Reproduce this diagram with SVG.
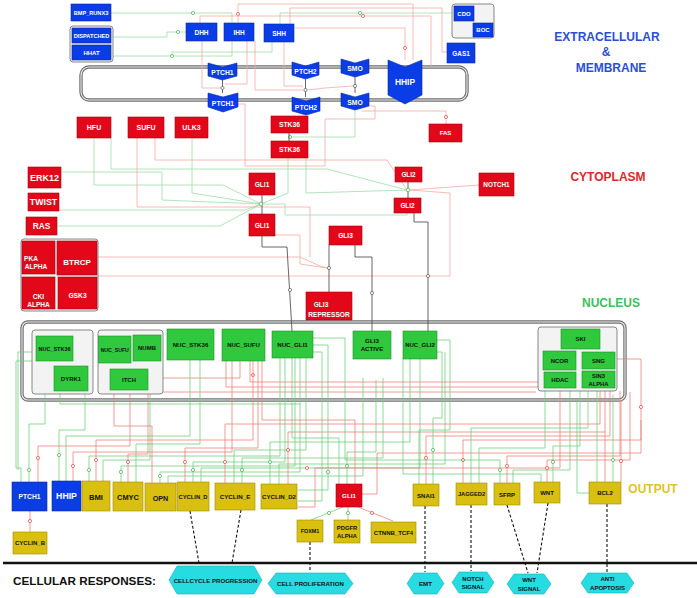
<svg xmlns="http://www.w3.org/2000/svg" width="697" height="598" viewBox="0 0 697 598">
<defs>
<style>
.nb{fill:#0b3de6;stroke:#082aa8;stroke-width:.6}
.nr{fill:#e2081a;stroke:#a8000e;stroke-width:.6}
.ng{fill:#30c83c;stroke:#1d9527;stroke-width:.6}
.ny{fill:#d9bf10;stroke:#a08a00;stroke-width:.6}
.nc{fill:#27dbe2;stroke:#16b3ba;stroke-width:.6}
.grp{fill:#f3f3f3;stroke:#7a7a7a;stroke-width:.9}
.fo{fill:none;stroke:#707070;stroke-width:3.4}
.fi{fill:none;stroke:#ececec;stroke-width:1.1}
.t{font-family:"Liberation Sans",Arial,sans-serif;font-weight:bold;text-anchor:middle;dominant-baseline:central}
.tw{fill:#fff}
.tk{fill:#111}
.lab{font-family:"Liberation Sans",Arial,sans-serif;font-weight:bold;font-size:12px;text-anchor:middle}
path{fill:none}
.g{stroke:#6fcf7e;stroke-width:.8}
.r{stroke:#ee8078;stroke-width:.8}
.g2{stroke:#9edca8;stroke-width:.8}
.r2{stroke:#f4aaa4;stroke-width:.8}
.k{stroke:#555;stroke-width:.9}
.d{stroke:#111;stroke-width:1.1;stroke-dasharray:3 2;marker-end:url(#ad)}
.ga{marker-end:url(#ag)}
.ra{marker-end:url(#ar)}
.ka{marker-end:url(#ak)}
.cg{fill:#fff;stroke:#3fae4c;stroke-width:.7}
.cr{fill:#fff;stroke:#e0443c;stroke-width:.7}
.ck{fill:#fff;stroke:#555;stroke-width:.7}
</style>
<marker id="ag" viewBox="0 0 6 6" refX="6" refY="3" markerWidth="4" markerHeight="4" orient="auto" markerUnits="userSpaceOnUse"><path d="M0,0L6,3L0,6Z" fill="#2fae3f"/></marker>
<marker id="ar" viewBox="0 0 6 6" refX="6" refY="3" markerWidth="4" markerHeight="4" orient="auto" markerUnits="userSpaceOnUse"><path d="M0,0L6,3L0,6Z" fill="#e0342c"/></marker>
<marker id="ak" viewBox="0 0 6 6" refX="6" refY="3" markerWidth="4" markerHeight="4" orient="auto" markerUnits="userSpaceOnUse"><path d="M0,0L6,3L0,6Z" fill="#222"/></marker>
<marker id="ad" viewBox="0 0 6 6" refX="6" refY="3" markerWidth="5" markerHeight="5" orient="auto" markerUnits="userSpaceOnUse"><path d="M0,0L6,3L0,6Z" fill="#111"/></marker>
</defs>
<rect width="697" height="598" fill="#fff"/>

<g id="frames">
<rect class="fo" x="81" y="67" width="386" height="33" rx="8"/>
<rect class="fi" x="81" y="67" width="386" height="33" rx="8"/>
<rect class="fo" x="22" y="322" width="603" height="78" rx="6"/>
<rect class="fi" x="22" y="322" width="603" height="78" rx="6"/>
<path d="M3,563H697" stroke="#111" stroke-width="2.4"/>
</g>

<g id="connectors">
<!-- extracellular -->
<path class="g2 ga" d="M111,13H232V23"/><circle class="cg" cx="193" cy="13" r="1.6"/>
<path class="g2 ga" d="M113,37H167V32H186"/><circle class="cg" cx="178" cy="32" r="1.6"/>
<path class="g2 ga" d="M113,56H232V41"/><circle class="cg" cx="172" cy="56" r="1.6"/>
<path class="g2 ga" d="M172,56V52H272V42"/>
<path class="g2 ga" d="M453,13H280V24"/><circle class="cg" cx="360" cy="13" r="1.6"/>
<path class="r2 ra" d="M413,60V4H238V23"/><circle class="cr" cx="238" cy="14" r="1.6"/>
<path class="r2 ra" d="M431,66V16H200V23"/><circle class="cr" cx="363" cy="16" r="1.6"/>
<path class="r2 ra" d="M447,52H442V8H290V24"/>
<path class="r2 ra" d="M405,60V28H295"/><circle class="cr" cx="405" cy="48" r="1.6"/>
<path class="r2" d="M202,41V88H221"/>
<path class="r2" d="M247,41V84H225"/>
<path class="r2" d="M255,41V90H303"/>
<path class="r2" d="M284,42V86H303"/>
<path class="r2" d="M308,90L325,88L353,86"/>
<path class="k ka" d="M222.5,80V93"/><circle class="ck" cx="222.5" cy="88" r="1.6"/>
<path class="k ka" d="M305.5,79V97"/><circle class="ck" cx="305.5" cy="90" r="1.6"/>
<path class="k ka" d="M355,77V93"/><circle class="ck" cx="355" cy="86" r="1.6"/>
<!-- cytoplasm -->
<path class="g2" d="M355,110V137H292"/><circle class="cg" cx="290" cy="137" r="1.6"/>
<path class="k ka" d="M289,133V141"/>
<path class="r2 ra" d="M362,111H446V124"/><circle class="cr" cx="446" cy="117" r="1.6"/>
<path class="r2" d="M238,104H245V166H325V119H375V106H369"/>
<path class="g2" d="M94,138V185H223L261,204"/>
<path class="g2" d="M61,172H162V200L261,204"/>
<path class="g2" d="M59,210H245L261,204"/>
<path class="g2" d="M57,226H220L261,204"/>
<path class="g2" d="M192,138V193L261,204"/>
<path class="g2" d="M288,158V193L261,204"/>
<path class="g2" d="M111,138V169H327L407,190"/>
<path class="g2" d="M306,158V193L407,190"/>
<path class="g2" d="M263,204H285V215H407V213"/>
<path class="r2" d="M137,138V207H310V257"/>
<path class="r2" d="M155,138V160H387L407,190"/>
<path class="r2" d="M98,257H300L320,266L327,268"/>
<path class="r2" d="M98,276H450V193L410,190"/>
<path class="r2" d="M479,185L410,190"/>
<path class="r2" d="M275,235H300V264L327,268"/>
<path class="k" d="M262,195V204"/><path class="k ka" d="M262,204V214"/><circle class="cg" cx="261" cy="204" r="1.8"/>
<path class="k" d="M408,182V190"/><path class="k ka" d="M408,190V198"/><circle class="cg" cx="408" cy="190" r="1.8"/>
<path class="k ka" d="M262,236V247H287L292,331"/><circle class="ck" cx="290" cy="290" r="1.6"/>
<path class="k ka" d="M355,245V257H372V331"/><circle class="ck" cx="372" cy="293" r="1.6"/>
<path class="k ka" d="M329,245V292"/><circle class="ck" cx="329" cy="268" r="1.6"/>
<path class="k ka" d="M414,213V222H428V331"/><circle class="ck" cx="428" cy="276" r="1.6"/>
<!-- nucleus internal -->
<path class="r ra" d="M240,361V378H149"/>
<path class="r" d="M250,361V382H538"/>
<path class="r" d="M226,361V387H538"/>
<path class="r" d="M160,392H536"/>
<path class="g" d="M32,352H18V470"/>
<path class="g" d="M60,391V404H300"/>
<circle class="cr" cx="253" cy="375" r="1.6"/>
<!-- outputs -->
<path class="g ga" d="M36,361H16V468H21V482"/>
<path class="g ga" d="M45,394V424H29V482"/><circle class="cg" cx="29" cy="470" r="1.6"/>
<path class="r ra" d="M130,390V446H38V482"/><circle class="cr" cx="38" cy="458" r="1.6"/>
<path class="g ga" d="M85,391V430H59V481"/><circle class="cg" cx="59" cy="455" r="1.6"/>
<path class="g ga" d="M190,360V436H66V481"/>
<path class="r ra" d="M232,361V452H73V481"/><circle class="cr" cx="73" cy="466" r="1.6"/>
<path class="g ga" d="M280,358V456H89V481"/><circle class="cg" cx="89" cy="470" r="1.6"/>
<path class="r ra" d="M253,361V440H96V481"/><circle class="cr" cx="96" cy="460" r="1.6"/>
<path class="g ga" d="M150,394V460H103V481"/>
<path class="g ga" d="M295,358V466H121V482"/><circle class="cg" cx="121" cy="472" r="1.6"/>
<path class="r ra" d="M148,390V454H128V482"/><circle class="cr" cx="128" cy="462" r="1.6"/>
<path class="g ga" d="M200,360V444H136V482"/>
<path class="r ra" d="M114,390V426H152V483"/>
<path class="g ga" d="M300,358V472H160V483"/><circle class="cg" cx="160" cy="476" r="1.6"/>
<path class="g ga" d="M363,378V476H168V483"/>
<path class="r ra" d="M258,361V448H185V482"/><circle class="cr" cx="185" cy="462" r="1.6"/>
<path class="g ga" d="M285,358V462H193V482"/><circle class="cg" cx="193" cy="470" r="1.6"/>
<path class="g ga" d="M420,359V468H201V482"/>
<path class="r ra" d="M600,391V424H225V483"/><circle class="cr" cx="225" cy="462" r="1.6"/>
<path class="g ga" d="M306,358V450H234V483"/>
<path class="g ga" d="M383,378V458H242V483"/><circle class="cg" cx="242" cy="470" r="1.6"/>
<path class="g ga" d="M410,359V442H270V484"/><circle class="cg" cx="270" cy="462" r="1.6"/>
<path class="g ga" d="M445,352V464H279V484"/>
<path class="r ra" d="M605,391V432H288V484"/><circle class="cr" cx="288" cy="450" r="1.6"/>
<path class="r ra" d="M560,391V468H315V507H298"/><circle class="cr" cx="307" cy="468" r="1.6"/>
<path class="g ga" d="M313,345H328V490H298"/><circle class="cg" cx="328" cy="472" r="1.6"/>
<path class="g ga" d="M313,352H322V501H298"/>
<path class="g ga" d="M292,358V438H339V484"/>
<path class="g ga" d="M376,380V452H347V484"/><circle class="cg" cx="347" cy="466" r="1.6"/>
<path class="r ra" d="M262,361V420H355V484"/>
<path class="r ra" d="M617,359H641V453H377V494H362"/><circle class="cr" cx="641" cy="407" r="1.6"/>
<path class="g ga" d="M437,340H450V430H419V484"/>
<path class="r ra" d="M610,391V436H426V484"/><circle class="cr" cx="426" cy="458" r="1.6"/>
<path class="g ga" d="M437,352H442V418H433V484"/><circle class="cg" cx="433" cy="450" r="1.6"/>
<path class="r ra" d="M641,420V440H463V483"/><circle class="cr" cx="463" cy="460" r="1.6"/>
<path class="g ga" d="M588,391V428H471V483"/>
<path class="g ga" d="M545,391V448H479V483"/>
<path class="g ga" d="M313,338H345V460H500V483"/><circle class="cg" cx="500" cy="470" r="1.6"/>
<path class="r ra" d="M620,391V456H507V483"/><circle class="cr" cx="507" cy="466" r="1.6"/>
<path class="g ga" d="M570,391V470H513V483"/>
<path class="g ga" d="M403,359V474H541V482"/>
<path class="r ra" d="M630,392V460H547V482"/><circle class="cr" cx="547" cy="468" r="1.6"/>
<path class="g ga" d="M580,391V446H553V482"/><circle class="cg" cx="553" cy="462" r="1.6"/>
<path class="g ga" d="M577,400V493H589"/>
<path class="g ga" d="M597,391V482"/>
<path class="r ra" d="M605,432V482"/>
<path class="g ga" d="M613,395V482"/><circle class="cg" cx="613" cy="460" r="1.6"/>
<path class="r ra" d="M621,400V482"/><circle class="cr" cx="621" cy="461" r="1.6"/>
<!-- secondary -->
<path class="r ra" d="M30,511V532"/><circle class="cr" cx="30" cy="521" r="1.6"/>
<path class="g ga" d="M343,507L311,520"/><circle class="cg" cx="329" cy="513" r="1.6"/>
<path class="g ga" d="M348,507V520"/><circle class="cg" cx="348" cy="513" r="1.6"/>
<path class="r ra" d="M358,507L393,521"/><circle class="cr" cx="372" cy="513" r="1.6"/>
<path class="d" d="M190,511L199,563"/>
<path class="d" d="M241,510L232,563"/>
<path class="d" d="M310,542V571"/>
<path class="d" d="M425,506V572"/>
<path class="d" d="M471,505V571"/>
<path class="d" d="M507,505L528,573"/>
<path class="d" d="M548,503L537,573"/>
<path class="d" d="M607,504V573"/>
</g>

<g id="nodes">
<g id="bmp_runx3"><rect class="nb" x="71" y="4" width="40" height="17"/><text class="t tw" x="91" y="12.5" font-size="5.6">BMP_RUNX3</text></g>
<g id="dispatched_group"><rect class="grp" x="70" y="26" width="43" height="36" rx="3"/>
<rect class="nb" x="72" y="28" width="39" height="15"/><text class="t tw" x="91.5" y="35.5" font-size="5.6">DISPATCHED</text>
<rect class="nb" x="72" y="45" width="39" height="15"/><text class="t tw" x="91.5" y="52.5" font-size="6">HHAT</text></g>
<g id="dhh"><rect class="nb" x="186" y="23" width="31" height="18"/><text class="t tw" x="201.5" y="32" font-size="6.5">DHH</text></g>
<g id="ihh"><rect class="nb" x="224" y="23" width="30" height="18"/><text class="t tw" x="239" y="32" font-size="6.5">IHH</text></g>
<g id="shh"><rect class="nb" x="264" y="24" width="30" height="18"/><text class="t tw" x="279" y="33" font-size="6.5">SHH</text></g>
<g id="cdo_boc"><rect class="grp" x="452" y="4" width="42" height="34" rx="3"/>
<rect class="nb" x="454" y="6" width="20" height="15"/><text class="t tw" x="464" y="13.5" font-size="6">CDO</text>
<rect class="nb" x="473" y="23" width="20" height="14"/><text class="t tw" x="483" y="30" font-size="6">BOC</text></g>
<g id="gas1"><rect class="nb" x="447" y="43" width="28" height="20"/><text class="t tw" x="461" y="53" font-size="6.4">GAS1</text></g>
<g id="ptch1_up"><path class="nb" d="M208,63L222.5,67L237,63L237,76L222.5,80L208,76Z"/><text class="t tw" x="222.5" y="72" font-size="6.8">PTCH1</text></g>
<g id="ptch1_low"><path class="nb" d="M208,93L223,97L238,93L238,107L223,112L208,107Z"/><text class="t tw" x="223" y="103" font-size="6.8">PTCH1</text></g>
<g id="ptch2_up"><path class="nb" d="M292,62L305.5,66L319,62L319,75L305.5,79L292,75Z"/><text class="t tw" x="305.5" y="71" font-size="6.8">PTCH2</text></g>
<g id="ptch2_low"><path class="nb" d="M292,97L306,101L320,97L320,111L306,115L292,111Z"/><text class="t tw" x="306" y="107" font-size="6.8">PTCH2</text></g>
<g id="smo_up"><path class="nb" d="M341,59L355,63L369,59L369,73L355,77L341,73Z"/><text class="t tw" x="355" y="68.5" font-size="6.8">SMO</text></g>
<g id="smo_low"><path class="nb" d="M341,93L355,97L369,93L369,106L355,110L341,106Z"/><text class="t tw" x="355" y="102.5" font-size="6.8">SMO</text></g>
<g id="hhip"><path class="nb" d="M388,60L405,67L422,60L422,95L405,104L388,95Z"/><text class="t tw" x="405" y="82" font-size="8.4">HHIP</text></g>

<g id="hfu"><rect class="nr" x="77" y="117" width="34" height="21"/><text class="t tw" x="94" y="127.5" font-size="7">HFU</text></g>
<g id="sufu"><rect class="nr" x="128" y="117" width="36" height="21"/><text class="t tw" x="146" y="127.5" font-size="7">SUFU</text></g>
<g id="ulk3"><rect class="nr" x="175" y="117" width="33" height="21"/><text class="t tw" x="191.5" y="127.5" font-size="7">ULK3</text></g>
<g id="stk36_a"><rect class="nr" x="271" y="116" width="37" height="17"/><text class="t tw" x="289.5" y="124.5" font-size="6.8">STK36</text></g>
<g id="stk36_b"><rect class="nr" x="271" y="141" width="37" height="17"/><text class="t tw" x="289.5" y="149.5" font-size="6.8">STK36</text></g>
<g id="fas"><rect class="nr" x="429" y="124" width="33" height="18"/><text class="t tw" x="445.5" y="133" font-size="6">FAS</text></g>
<g id="erk12"><rect class="nr" x="28" y="167" width="33" height="21"/><text class="t tw" x="44.5" y="177.5" font-size="9">ERK12</text></g>
<g id="twist"><rect class="nr" x="28" y="193" width="31" height="18"/><text class="t tw" x="43.5" y="202" font-size="8.8">TWIST</text></g>
<g id="ras"><rect class="nr" x="26" y="217" width="31" height="18"/><text class="t tw" x="41.5" y="225.5" font-size="8.4">RAS</text></g>
<g id="gli1_a"><rect class="nr" x="249" y="173" width="26" height="22"/><text class="t tw" x="262" y="184" font-size="6.6">GLI1</text></g>
<g id="gli1_b"><rect class="nr" x="249" y="214" width="26" height="22"/><text class="t tw" x="262" y="225" font-size="6.6">GLI1</text></g>
<g id="gli2_a"><rect class="nr" x="395" y="167" width="27" height="15"/><text class="t tw" x="408.5" y="174.5" font-size="6.4">GLI2</text></g>
<g id="gli2_b"><rect class="nr" x="394" y="198" width="27" height="15"/><text class="t tw" x="407.5" y="205.5" font-size="6.4">GLI2</text></g>
<g id="notch1"><rect class="nr" x="479" y="173" width="35" height="23"/><text class="t tw" x="496.5" y="184.5" font-size="6.4">NOTCH1</text></g>
<g id="gli3"><rect class="nr" x="329" y="226" width="33" height="19"/><text class="t tw" x="345.5" y="235.5" font-size="6.6">GLI3</text></g>
<g id="gli3_repressor"><rect class="nr" x="306" y="292" width="46" height="28"/><text class="t tw" x="321" y="304" font-size="6.6">GLI3</text><text class="t tw" x="329" y="314" font-size="6.6">REPRESSOR</text></g>
<g id="kinase_group"><rect class="grp" x="21" y="239" width="77" height="72" rx="3"/>
<rect class="nr" x="22" y="241" width="33" height="33"/><text class="t tw" x="31" y="258" font-size="6.6">PKA</text><text class="t tw" x="36" y="266.5" font-size="6.6">ALPHA</text>
<rect class="nr" x="57" y="241" width="40" height="34"/><text class="t tw" x="77" y="262.5" font-size="8">BTRCP</text>
<rect class="nr" x="22" y="277" width="33" height="32"/><text class="t tw" x="38.5" y="296" font-size="6.6">CKI</text><text class="t tw" x="38.5" y="304" font-size="6.6">ALPHA</text>
<rect class="nr" x="58" y="277" width="39" height="32"/><text class="t tw" x="77.5" y="295.5" font-size="6.7">GSK3</text></g>

<g id="nuc_group1"><rect class="grp" x="32" y="330" width="61" height="64" rx="3"/>
<rect class="ng" x="36" y="336" width="37" height="25"/><text class="t tk" x="54.5" y="348.5" font-size="5.5">NUC_STK36</text>
<rect class="ng" x="54" y="366" width="34" height="25"/><text class="t tk" x="71" y="378.5" font-size="6">DYRK1</text></g>
<g id="nuc_group2"><rect class="grp" x="98" y="330" width="65" height="64" rx="3"/>
<rect class="ng" x="98.5" y="336" width="32.5" height="27"/><text class="t tk" x="114.75" y="349.5" font-size="5.2">NUC_SUFU</text>
<rect class="ng" x="133" y="335" width="28" height="26"/><text class="t tk" x="147" y="348" font-size="6">NUMB</text>
<rect class="ng" x="110" y="369" width="38" height="21"/><text class="t tk" x="129" y="379.5" font-size="6">ITCH</text></g>
<g id="nuc_stk36"><rect class="ng" x="167" y="329" width="47" height="31"/><text class="t tk" x="190.5" y="344.5" font-size="6.1">NUC_STK36</text></g>
<g id="nuc_sufu"><rect class="ng" x="222" y="329" width="43" height="32"/><text class="t tk" x="243.5" y="344.5" font-size="6">NUC_SUFU</text></g>
<g id="nuc_gli1"><rect class="ng" x="272" y="331" width="41" height="27"/><text class="t tk" x="292.5" y="344" font-size="6.2">NUC_GLI1</text></g>
<g id="gli3_active"><rect class="ng" x="353" y="331" width="38" height="28"/><text class="t tk" x="372" y="340" font-size="6.2">GLI3</text><text class="t tk" x="372" y="348.5" font-size="6.2">ACTIVE</text></g>
<g id="nuc_gli2"><rect class="ng" x="403" y="331" width="34" height="28"/><text class="t tk" x="420" y="344.5" font-size="6">NUC_GLI2</text></g>
<g id="nuc_group3"><rect class="grp" x="538" y="327" width="79" height="64" rx="3"/>
<rect class="ng" x="561" y="329" width="39" height="20"/><text class="t tk" x="580.5" y="339" font-size="6">SKI</text>
<rect class="ng" x="543" y="351" width="33" height="19"/><text class="t tk" x="559.5" y="360.5" font-size="6">NCOR</text>
<rect class="ng" x="582" y="352" width="33" height="17"/><text class="t tk" x="598.5" y="360.5" font-size="6">SNG</text>
<rect class="ng" x="544" y="372" width="32" height="16"/><text class="t tk" x="560" y="380" font-size="6">HDAC</text>
<rect class="ng" x="582" y="371" width="33" height="17"/><text class="t tk" x="598.5" y="376.3" font-size="5.8">SIN3</text><text class="t tk" x="598.5" y="384" font-size="5.8">ALPHA</text></g>

<g id="ptch1_out"><rect class="nb" x="12" y="482" width="35" height="29"/><text class="t tw" x="29.5" y="496.5" font-size="6.7">PTCH1</text></g>
<g id="hhip_out"><rect class="nb" x="52" y="481" width="29" height="30"/><text class="t tw" x="66.5" y="496" font-size="8.7" font-weight="normal">HHIP</text></g>
<g id="bmi"><rect class="ny" x="82" y="481" width="28" height="30"/><text class="t tk" x="96" y="497" font-size="7.6">BMI</text></g>
<g id="cmyc"><rect class="ny" x="113" y="482" width="30" height="29"/><text class="t tk" x="128" y="497.5" font-size="7.4">CMYC</text></g>
<g id="opn"><rect class="ny" x="145" y="483" width="31" height="28"/><text class="t tk" x="160.5" y="498" font-size="7.2">OPN</text></g>
<g id="cyclin_d"><rect class="ny" x="177" y="482" width="32" height="29"/><text class="t tk" x="193" y="497" font-size="5.8">CYCLIN_D</text></g>
<g id="cyclin_e"><rect class="ny" x="215" y="483" width="40" height="27"/><text class="t tk" x="235" y="496.5" font-size="6.2">CYCLIN_E</text></g>
<g id="cyclin_d2"><rect class="ny" x="261" y="484" width="36" height="25"/><text class="t tk" x="279" y="496.5" font-size="6.1">CYCLIN_D2</text></g>
<g id="gli1_out"><rect class="nr" x="336" y="484" width="26" height="23"/><text class="t tw" x="349" y="495.5" font-size="6.2">GLI1</text></g>
<g id="snai1"><rect class="ny" x="413" y="484" width="26" height="22"/><text class="t tk" x="426" y="495" font-size="6.1">SNAI1</text></g>
<g id="jagged2"><rect class="ny" x="456" y="483" width="31" height="22"/><text class="t tk" x="471.5" y="494" font-size="5.7">JAGGED2</text></g>
<g id="sfrp"><rect class="ny" x="494" y="483" width="26" height="22"/><text class="t tk" x="507" y="494.5" font-size="6">SFRP</text></g>
<g id="wnt"><rect class="ny" x="534" y="482" width="26" height="21"/><text class="t tk" x="547" y="492.5" font-size="6">WNT</text></g>
<g id="bcl2"><rect class="ny" x="589" y="482" width="32" height="22"/><text class="t tk" x="605" y="493" font-size="6">BCL2</text></g>
<g id="cyclin_b"><rect class="ny" x="13" y="532" width="34" height="22"/><text class="t tk" x="30" y="543" font-size="6">CYCLIN_B</text></g>
<g id="foxm1"><rect class="ny" x="297" y="520" width="26" height="22"/><text class="t tk" x="310" y="531" font-size="5.4">FOXM1</text></g>
<g id="pdgfr_alpha"><rect class="ny" x="334" y="520" width="26" height="23"/><text class="t tk" x="347" y="527.5" font-size="5.8">PDGFR</text><text class="t tk" x="347" y="536" font-size="5.8">ALPHA</text></g>
<g id="ctnnb_tcf4"><rect class="ny" x="371" y="522" width="45" height="21"/><text class="t tk" x="393.5" y="532.5" font-size="6">CTNNB_TCF4</text></g>

<g id="cellcycle"><path class="nc" d="M169,580L177,566H254L262,580L254,594H177Z"/><text class="t tk" x="215.5" y="580" font-size="6.1">CELLCYCLE PROGRESSION</text></g>
<g id="cell_prolif"><path class="nc" d="M268,583.5L276,573H345L353,583.5L345,594H276Z"/><text class="t tk" x="310.5" y="583.5" font-size="6.1">CELL PROLIFERATION</text></g>
<g id="emt"><path class="nc" d="M407,583.5L414,573H437L444,583.5L437,594H414Z"/><text class="t tk" x="425.5" y="583.5" font-size="6.2">EMT</text></g>
<g id="notch_signal"><path class="nc" d="M452,582.5L459,572H487L494,582.5L487,593H459Z"/><text class="t tk" x="473" y="578.5" font-size="6">NOTCH</text><text class="t tk" x="473" y="587" font-size="6">SIGNAL</text></g>
<g id="wnt_signal"><path class="nc" d="M507,584L514,574H544L551,584L544,594H514Z"/><text class="t tk" x="529" y="580" font-size="6">WNT</text><text class="t tk" x="529" y="588.5" font-size="6">SIGNAL</text></g>
<g id="anti_apoptosis"><path class="nc" d="M581,583L588,573H627L634,583L627,593H588Z"/><text class="t tk" x="607.5" y="579" font-size="6">ANTI</text><text class="t tk" x="607.5" y="587.5" font-size="6">APOPTOSIS</text></g>
</g>

<g id="labels">
<text class="lab" x="607" y="41" fill="#2a4fd6">EXTRACELLULAR</text>
<text class="lab" x="606" y="56" fill="#2a4fd6">&amp;</text>
<text class="lab" x="611" y="72" fill="#2a4fd6">MEMBRANE</text>
<text class="lab" x="608" y="181" fill="#e3262b">CYTOPLASM</text>
<text class="lab" x="611" y="307" fill="#3cbf5e">NUCLEUS</text>
<text class="lab" x="653" y="493" fill="#e0c22a">OUTPUT</text>
<text x="13" y="584.5" font-family="Liberation Sans, Arial, sans-serif" font-weight="bold" font-size="11.7" fill="#111">CELLULAR RESPONSES:</text>
</g>
</svg>
